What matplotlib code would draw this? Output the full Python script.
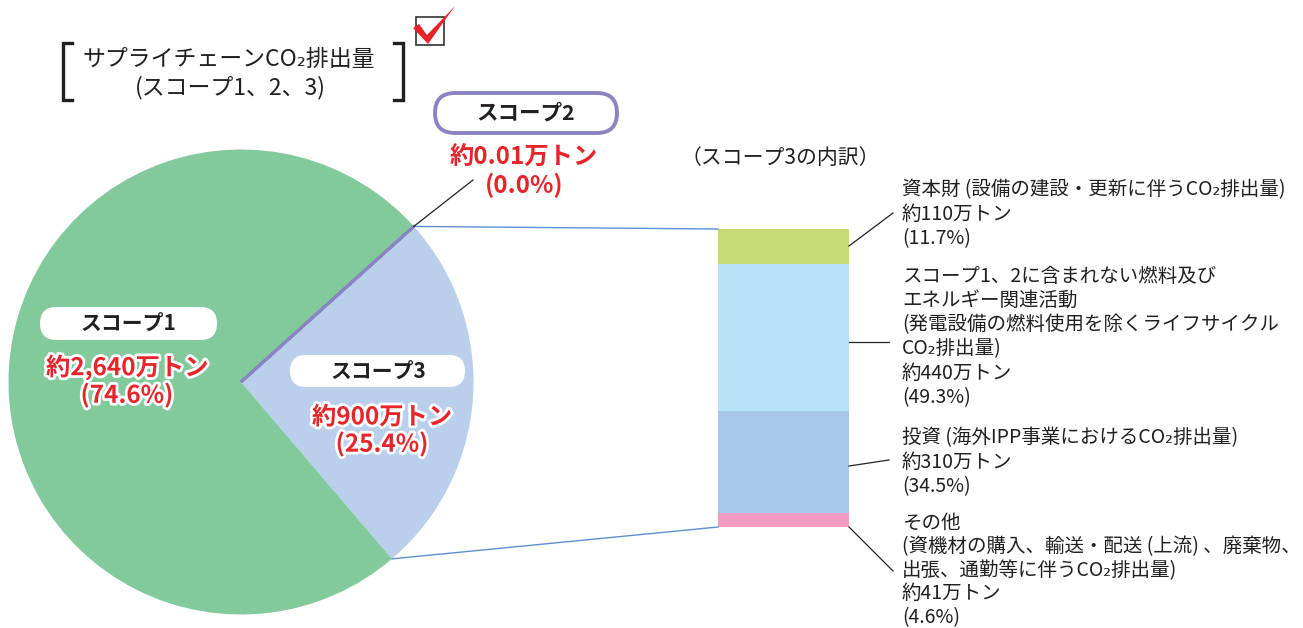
import numpy as np
import matplotlib
matplotlib.use('Agg')
import matplotlib.pyplot as plt
import matplotlib.patheffects as pe
from matplotlib.patches import FancyBboxPatch, Rectangle, Polygon

plt.rcParams['font.family'] = ['Noto Sans CJK JP', 'DejaVu Sans']

# --- data -------------------------------------------------------------
# pie (order drawn: scope3, scope1, scope2), values in 万トン
scope_names = ['スコープ3', 'スコープ1', 'スコープ2']
scope_values = [900, 2640, 0.01]
scope_labels = ['約900万トン\n(25.4%)', '約2,640万トン\n(74.6%)', '約0.01万トン\n(0.0%)']
scope_colors = ['#b9cfec', '#82ca9c', '#8a85c2']

# scope 3 breakdown
s3_values = [110, 440, 310, 41]
s3_share = [11.7, 49.3, 34.5, 4.6]
s3_colors = ['#c8da75', '#b6e3f7', '#a8c8ea', '#f39bc1']
s3_text = [
    ['資本財 (設備の建設・更新に伴うCO₂排出量)', '約110万トン', '(11.7%)'],
    ['スコープ1、2に含まれない燃料及び', 'エネルギー関連活動',
     '(発電設備の燃料使用を除くライフサイクル', 'CO₂排出量)', '約440万トン', '(49.3%)'],
    ['投資 (海外IPP事業におけるCO₂排出量)', '約310万トン', '(34.5%)'],
    ['その他', '(資機材の購入、輸送・配送 (上流) 、廃棄物、',
     '出張、通勤等に伴うCO₂排出量)', '約41万トン', '(4.6%)'],
]

RED = '#e8242b'
PURPLE = '#8a85c2'
LINEBLUE = '#5b8fd0'

fig = plt.figure(figsize=(13.03, 6.28), dpi=100)
ax = fig.add_axes([0, 0, 1, 1])

# pie, pixel-like coords (y goes down)
cx, cy, R = 241, 382, 232.5
wedges, _ = ax.pie(scope_values, colors=scope_colors, startangle=-42.0,
                   counterclock=True, radius=R, center=(cx, cy), frame=True,
                   wedgeprops=dict(linewidth=0))
wedges[2].set_edgecolor(PURPLE)
wedges[2].set_linewidth(2.2)

ax.set_xlim(0, 1303)
ax.set_ylim(628, 0)
ax.set_aspect('equal')
ax.axis('off')

def edge_pt(theta):
    t = np.deg2rad(theta)
    return cx + R * np.cos(t), cy + R * np.sin(t)

# stacked bar for scope 3
bar_x, bar_w, bar_top, bar_h = 783.5, 131, 229, 298
heights = np.array(s3_share) / sum(s3_share) * bar_h
bottoms = bar_top + np.concatenate([[0], np.cumsum(heights)[:-1]])
ax.bar(bar_x, heights, bottom=bottoms, width=bar_w, color=s3_colors, linewidth=0)

# connector lines pie -> bar
p_top = edge_pt(wedges[0].theta1)
p_bot = edge_pt(wedges[0].theta2)
bl = bar_x - bar_w / 2
ax.plot([p_top[0], bl], [p_top[1], bar_top], color=LINEBLUE, lw=1)
ax.plot([p_bot[0], bl], [p_bot[1], bar_top + bar_h], color=LINEBLUE, lw=1)

# leaders bar -> texts
br = bar_x + bar_w / 2
leaders = [((br, 246), (893, 213)), ((br, 342), (889, 342)),
           ((br, 466), (889, 460)), ((br, 527), (893, 571))]
for a, b in leaders:
    ax.plot([a[0], b[0]], [a[1], b[1]], color='#222222', lw=0.9)

# breakdown texts
block_y = [190, 276, 438, 523]
block_gap = [24.3, 24.3, 24.3, 23.6]
for lines, y0, gap in zip(s3_text, block_y, block_gap):
    for i, line in enumerate(lines):
        ax.text(902, y0 + i * gap, line, fontsize=14, color='#231f20',
                ha='left', va='center')

ax.text(780, 158, '（スコープ3の内訳）', fontsize=15, color='#231f20',
        ha='center', va='center')

# pills and labels on the pie
def pill(x, y, w, h, ec='none', lw=0):
    ax.add_patch(FancyBboxPatch((x, y), w, h,
                                boxstyle=f'round,pad=0,rounding_size={h/2}',
                                fc='white', ec=ec, lw=lw, zorder=3))

outline = [pe.withStroke(linewidth=4, foreground='white')]

pill(40, 307, 177, 33)
ax.text(128, 323.5, scope_names[1], fontsize=15, weight='bold', color='#231f20',
        ha='center', va='center', zorder=4)
ax.text(127, 381, scope_labels[1], fontsize=17.5, weight='bold', color=RED,
        ha='center', va='center', linespacing=1.1, path_effects=outline, zorder=4)

pill(290, 355, 175, 32)
ax.text(378, 371, scope_names[0], fontsize=15, weight='bold', color='#231f20',
        ha='center', va='center', zorder=4)
ax.text(382, 431, scope_labels[0], fontsize=17.5, weight='bold', color=RED,
        ha='center', va='center', linespacing=1.1, path_effects=outline, zorder=4)

pill(435, 93, 182, 40, ec=PURPLE, lw=2.8)
ax.text(526, 113, scope_names[2], fontsize=15.5, weight='bold', color='#231f20',
        ha='center', va='center', zorder=4)
ax.text(524, 172, scope_labels[2], fontsize=17.5, weight='bold', color=RED,
        ha='center', va='center', linespacing=1.15, zorder=4)
p2 = edge_pt(wedges[2].theta2)
ax.plot([p2[0], 473], [p2[1], 180], color='#222222', lw=0.9)

# title with brackets
ax.text(229, 60, 'サプライチェーンCO₂排出量', fontsize=16.5, color='#231f20',
        ha='center', va='center')
ax.text(230, 88, '(スコープ1、2、3)', fontsize=16.5, color='#231f20',
        ha='center', va='center')
ax.plot([72, 63, 63, 72], [43, 43, 100, 100], color='#231f20', lw=2.4,
        solid_joinstyle='miter')
ax.plot([394, 403, 403, 394], [43, 43, 100, 100], color='#231f20', lw=2.4,
        solid_joinstyle='miter')

# check box
ax.add_patch(Rectangle((416, 17), 28, 28, fc='white', ec='#333333', lw=1.2, zorder=3))
ax.add_patch(Polygon([(413, 28), (419, 24), (427, 35), (455, 6), (428, 44)],
                     closed=True, fc='#e8242b', ec='none', zorder=4))

fig.savefig('out.png', dpi=100)
